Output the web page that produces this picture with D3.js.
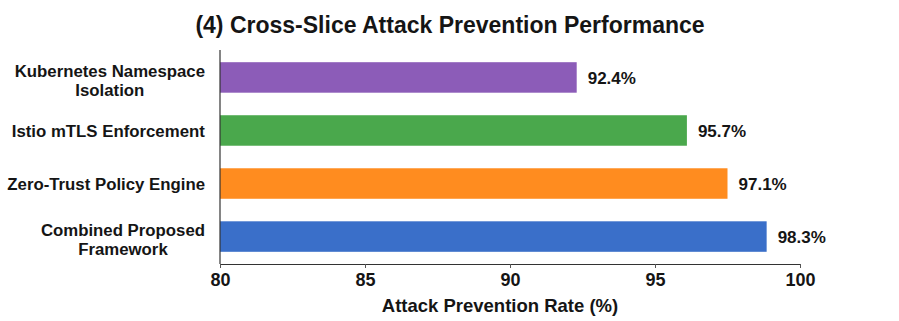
<!DOCTYPE html>
<html>
<head>
<meta charset="utf-8">
<script src="https://cdn.jsdelivr.net/npm/d3@7"></script>
<style>
  body { margin: 0; background: #fff; }
  text { font-family: "Liberation Sans", Arial, Helvetica, sans-serif; font-weight: bold; fill: #151515; }
</style>
</head>
<body>
<svg id="chart" width="899" height="321"></svg>
<script>
// categories, top to bottom
const categories = [
    "Kubernetes Namespace\nIsolation",
    "Istio mTLS Enforcement",
    "Zero-Trust Policy Engine",
    "Combined Proposed\nFramework"
];
// bar lengths as drawn
const rates = [92.3, 96.1, 97.5, 98.85];
// value labels printed next to bars
const rateLabels = ["92.4%", "95.7%", "97.1%", "98.3%"];
const barColors = ["#8c5cb8", "#4aa84c", "#ff8c1f", "#3a6fc9"];
const xTicks = [80, 85, 90, 95, 100];

const svg = d3.select("#chart");
const margin = { top: 50, left: 220, right: 99, bottom: 57 };
const width = 899, height = 321;

const x = d3.scaleLinear()
    .domain([80, 100])
    .range([margin.left, width - margin.right]);

const y = d3.scaleBand()
    .domain(categories)
    .range([margin.top, height - margin.bottom])
    .paddingInner(0.425)
    .paddingOuter(0.23);

// title
svg.append("text")
    .attr("x", 450)
    .attr("y", 33)
    .attr("text-anchor", "middle")
    .style("font-size", "23px")
    .text("(4) Cross-Slice Attack Prevention Performance");

// bars
svg.append("g").selectAll("rect")
    .data(categories)
    .join("rect")
        .attr("x", x(80))
        .attr("y", d => y(d))
        .attr("width", (d, i) => x(rates[i]) - x(80))
        .attr("height", y.bandwidth())
        .attr("fill", (d, i) => barColors[i]);

// value labels
svg.append("g").selectAll("text")
    .data(categories)
    .join("text")
        .attr("x", (d, i) => x(rates[i]) + 11)
        .attr("y", d => y(d) + y.bandwidth() / 2)
        .attr("dy", "0.36em")
        .style("font-size", "17px")
        .text((d, i) => rateLabels[i]);

// category labels, lines centred, block right-aligned
const catLabels = svg.append("g").selectAll("g")
    .data(categories)
    .join("g");

catLabels.each(function (d) {
    const g = d3.select(this);
    const lines = d.split("\n");
    const lh = 18.5;
    const t = g.append("text")
        .attr("text-anchor", "middle")
        .style("font-size", "16.8px");
    lines.forEach((line, k) => {
        t.append("tspan")
            .attr("x", 0)
            .attr("y", (k - (lines.length - 1) / 2) * lh)
            .attr("dy", "0.36em")
            .text(line);
    });
    const w = t.node().getBBox().width;
    const shift = lines.length > 1 ? 3 : 0;
    g.attr("transform", `translate(${205 - w / 2},${y(d) + y.bandwidth() / 2 + shift})`);
});

// left spine
svg.append("line")
    .attr("x1", x(80)).attr("x2", x(80))
    .attr("y1", margin.top).attr("y2", height - margin.bottom)
    .attr("stroke", "#333")
    .attr("stroke-width", 1.2);

// bottom axis
const xAxis = svg.append("g")
    .attr("transform", `translate(0,${height - margin.bottom})`)
    .call(d3.axisBottom(x).tickValues(xTicks).tickSize(4).tickPadding(5).tickSizeOuter(0));

xAxis.select(".domain").attr("stroke", "#333").attr("stroke-width", 1.2);
xAxis.selectAll(".tick line").attr("stroke", "#555");
xAxis.selectAll(".tick text")
    .style("font-size", "18px")
    .style("font-family", "'Liberation Sans', Arial, sans-serif")
    .style("font-weight", "bold")
    .attr("fill", "#151515");

// axis title
svg.append("text")
    .attr("x", 500)
    .attr("y", 312)
    .attr("text-anchor", "middle")
    .style("font-size", "18.5px")
    .text("Attack Prevention Rate (%)");
</script>
</body>
</html>
